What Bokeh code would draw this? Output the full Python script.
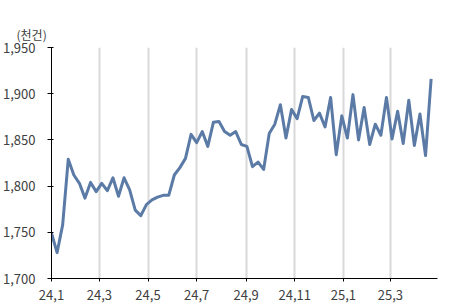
import pandas as pd
from bokeh.plotting import figure
from bokeh.models import FixedTicker, NumeralTickFormatter, Range1d, ColumnDataSource
from bokeh.embed import file_html
from bokeh.resources import INLINE

# ---- data ----
start_date = "2024-01-01"
values = [1749, 1728, 1758, 1829, 1812, 1803, 1787, 1804, 1794, 1803,
          1795, 1809, 1789, 1809, 1796, 1774, 1768, 1780, 1785, 1788,
          1790, 1790, 1812, 1820, 1830, 1856, 1847, 1859, 1843, 1869,
          1870, 1859, 1855, 1859, 1845, 1843, 1821, 1826, 1818, 1857,
          1867, 1888, 1852, 1883, 1873, 1897, 1896, 1871, 1879, 1864,
          1896, 1834, 1876, 1852, 1899, 1850, 1885, 1845, 1867, 1855,
          1896, 1851, 1881, 1846, 1893, 1844, 1878, 1833, 1916]
tick_dates = ["2024-01-01", "2024-03-01", "2024-05-01", "2024-07-01",
              "2024-09-01", "2024-11-01", "2025-01-01", "2025-03-01"]
tick_labels = ["24,1", "24,3", "24,5", "24,7", "24,9", "24,11", "25,1", "25,3"]
y_ticks = [1700, 1750, 1800, 1850, 1900, 1950]
unit_label = "(천건)"
end_date = "2025-04-29"

# ---- build ----
t0 = pd.Timestamp(start_date)
dates = pd.date_range(start_date, periods=len(values), freq="7D")
x = [(d - t0).days for d in dates]
tick_pos = [(pd.Timestamp(d) - t0).days for d in tick_dates]
x_end = (pd.Timestamp(end_date) - t0).days

FONT = "Noto Sans CJK KR"
TXT = "#404040"

p = figure(width=461, height=307, output_backend="svg", toolbar_location=None,
           x_range=Range1d(0, x_end), y_range=Range1d(y_ticks[0], y_ticks[-1]))
p.min_border_left = 51
p.min_border_right = 24
p.min_border_top = 47
p.min_border_bottom = 29
p.outline_line_color = None
p.background_fill_color = "white"
p.border_fill_color = "white"

src = ColumnDataSource(dict(x=x, y=values))
p.line("x", "y", source=src, line_color="#5b7ba6", line_width=3, line_join="round")

# x axis
p.xaxis.ticker = FixedTicker(ticks=tick_pos)
p.xaxis.major_label_overrides = {pos: lab for pos, lab in zip(tick_pos, tick_labels)}
p.xaxis.minor_tick_line_color = None
p.xaxis.major_tick_out = 3
p.xaxis.major_tick_in = 0
p.xaxis.major_label_standoff = 8
p.xaxis.axis_line_color = "black"
p.xaxis.major_tick_line_color = "black"
p.xaxis.major_label_text_font = FONT
p.xaxis.major_label_text_font_size = "13px"
p.xaxis.major_label_text_color = TXT

# y axis
p.yaxis.ticker = FixedTicker(ticks=y_ticks)
p.yaxis.formatter = NumeralTickFormatter(format="0,0")
p.yaxis.minor_tick_line_color = None
p.yaxis.major_tick_out = 4
p.yaxis.major_tick_in = 2
p.yaxis.major_label_standoff = 12
p.yaxis.axis_line_color = "black"
p.yaxis.major_tick_line_color = "black"
p.yaxis.major_label_text_font = FONT
p.yaxis.major_label_text_font_size = "13px"
p.yaxis.major_label_text_color = TXT

# grids
p.xgrid.ticker = FixedTicker(ticks=tick_pos[1:])
p.xgrid.grid_line_color = "#d9d9d9"
p.xgrid.grid_line_width = 2
p.ygrid.grid_line_color = None

# unit label as title
p.title.text = unit_label
p.title.align = "left"
p.title.offset = -35
p.title.standoff = 9
p.title.text_font = FONT
p.title.text_font_size = "12px"
p.title.text_font_style = "normal"
p.title.text_color = TXT

open("out.html", "w").write(file_html(p, INLINE))
